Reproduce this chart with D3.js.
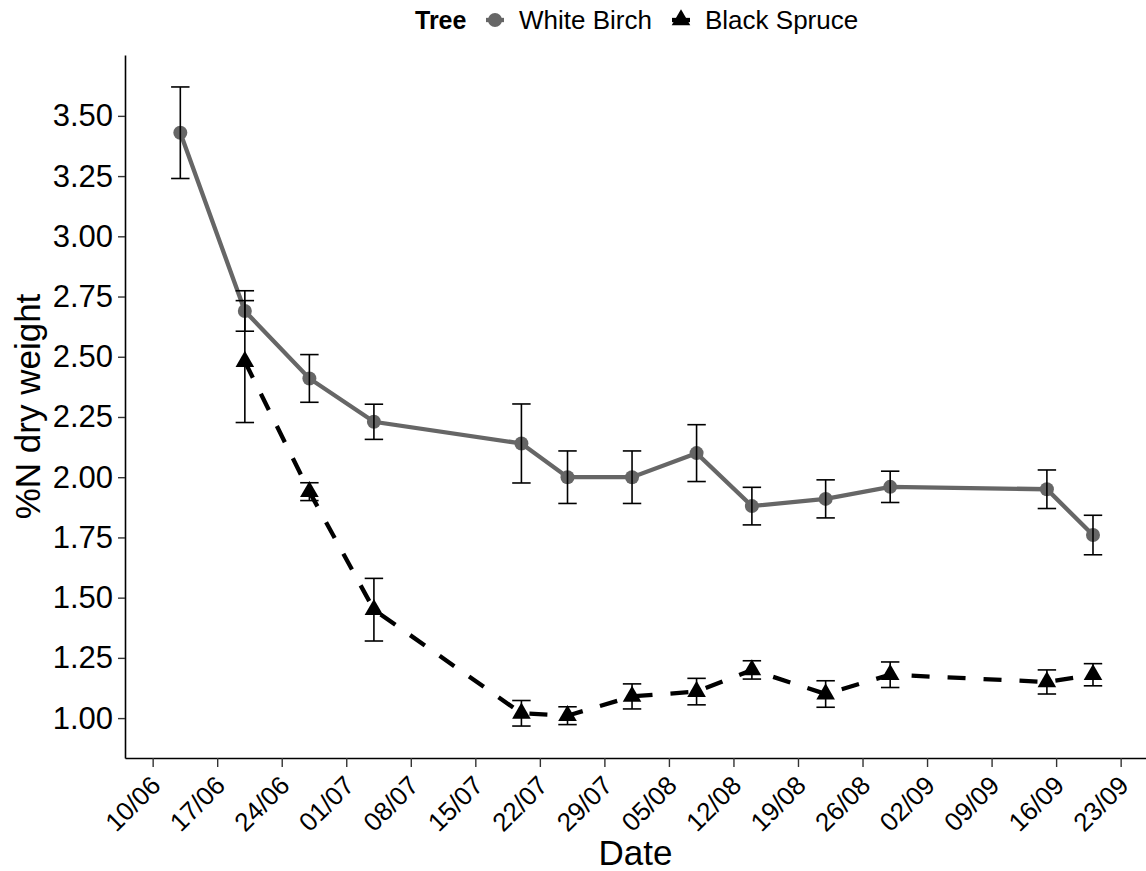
<!DOCTYPE html>
<html>
<head>
<meta charset="utf-8">
<script src="https://cdn.jsdelivr.net/npm/d3@7"></script>
<style>
  html, body { margin: 0; padding: 0; background: #ffffff; }
  svg { display: block; font-family: "Liberation Sans", Arial, Helvetica, sans-serif; }
</style>
</head>
<body>
<svg id="chart" width="1146" height="871"></svg>
<script>
// Foliar nitrogen (% of dry weight), mean ± error, by sampling date
const birchDates = ["13/06", "20/06", "27/06", "04/07", "20/07", "25/07", "01/08", "08/08", "14/08", "22/08", "29/08", "15/09", "20/09"];
const birchMean  = [3.43, 2.69, 2.41, 2.23, 2.14, 2.00, 2.00, 2.10, 1.88, 1.91, 1.96, 1.95, 1.76];
const birchErr   = [0.19, 0.084, 0.099, 0.073, 0.164, 0.109, 0.109, 0.118, 0.078, 0.079, 0.065, 0.080, 0.082];

const spruceDates = ["20/06", "27/06", "04/07", "20/07", "25/07", "01/08", "08/08", "14/08", "22/08", "29/08", "15/09", "20/09"];
const spruceMean  = [2.48, 1.94, 1.45, 1.02, 1.01, 1.09, 1.11, 1.20, 1.10, 1.18, 1.15, 1.18];
const spruceErr   = [0.253, 0.037, 0.13, 0.053, 0.037, 0.052, 0.055, 0.038, 0.055, 0.053, 0.05, 0.046];

const yTicks = [1.00, 1.25, 1.50, 1.75, 2.00, 2.25, 2.50, 2.75, 3.00, 3.25, 3.50];
const xTickLabels = ["10/06", "17/06", "24/06", "01/07", "08/07", "15/07", "22/07", "29/07", "05/08", "12/08", "19/08", "26/08", "02/09", "09/09", "16/09", "23/09"];

const legendTitle = "Tree";
const seriesNames = ["White Birch", "Black Spruce"];

const YEAR = 2021;
const parseDay = s => d3.utcParse("%d/%m/%Y")(s + "/" + YEAR);

const birch = birchDates.map((d, i) => ({ date: parseDay(d), mean: birchMean[i], err: birchErr[i] }));
const spruce = spruceDates.map((d, i) => ({ date: parseDay(d), mean: spruceMean[i], err: spruceErr[i] }));
const allRows = birch.concat(spruce);

const series = [
  { name: seriesNames[0], rows: birch, color: "#666666", dash: null, shape: "circle" },
  { name: seriesNames[1], rows: spruce, color: "#000000", dash: "18,18", shape: "triangle" }
];

const svg = d3.select("#chart");
const panel = { left: 125, right: 1146, top: 55, bottom: 758 };

// Date scale padded around the sampled range
const minDate = d3.min(allRows, d => d.date);
const maxDate = d3.max(allRows, d => d.date);
const x = d3.scaleUtc()
  .domain([d3.utcDay.offset(minDate, -6), d3.utcHour.offset(maxDate, 138)])
  .range([panel.left, panel.right]);

// Value scale: range of error bars expanded 5% on each side
const lo = d3.min(allRows, d => d.mean - d.err);
const hi = d3.max(allRows, d => d.mean + d.err);
const pad = (hi - lo) * 0.05;
const y = d3.scaleLinear().domain([lo - pad, hi + pad]).range([panel.bottom, panel.top]);

// Axes
const xTickValues = xTickLabels.map(parseDay);
const xAxis = d3.axisBottom(x)
  .tickValues(xTickValues)
  .tickFormat(d3.utcFormat("%d/%m"))
  .tickSizeInner(9).tickSizeOuter(0).tickPadding(4);

const gx = svg.append("g")
  .attr("transform", `translate(0,${panel.bottom})`)
  .call(xAxis);
gx.select(".domain").attr("stroke", "#000").attr("stroke-width", 1.6);
gx.selectAll(".tick line").attr("stroke", "#333").attr("stroke-width", 1.4);
gx.selectAll(".tick text")
  .attr("font-size", 26)
  .attr("fill", "#000")
  .attr("text-anchor", "end")
  .attr("dy", null)
  .attr("transform", "translate(9,29) rotate(-45)")
  .attr("y", 0).attr("x", 0);

const yAxis = d3.axisLeft(y)
  .tickValues(yTicks)
  .tickFormat(d3.format(".2f"))
  .tickSizeInner(7).tickSizeOuter(0).tickPadding(5);

const gy = svg.append("g")
  .attr("transform", `translate(${panel.left},0)`)
  .call(yAxis);
gy.select(".domain").attr("stroke", "#000").attr("stroke-width", 1.6);
gy.selectAll(".tick line").attr("stroke", "#333").attr("stroke-width", 1.4);
gy.selectAll(".tick text").attr("font-size", 31).attr("fill", "#000");

// Axis titles
svg.append("text")
  .attr("x", (panel.left + panel.right) / 2)
  .attr("y", 865)
  .attr("text-anchor", "middle")
  .attr("font-size", 35)
  .attr("fill", "#000")
  .text("Date");

svg.append("text")
  .attr("transform", `translate(40,${(panel.top + panel.bottom) / 2}) rotate(-90)`)
  .attr("text-anchor", "middle")
  .attr("font-size", 35)
  .attr("fill", "#000")
  .text("%N dry weight");

// Lines
const line = d3.line().x(d => x(d.date)).y(d => y(d.mean));
series.forEach(s => {
  svg.append("path")
    .datum(s.rows)
    .attr("fill", "none")
    .attr("stroke", s.color)
    .attr("stroke-width", 4.3)
    .attr("stroke-dasharray", s.dash)
    .attr("d", line);
});

// Points
const triangle = d3.symbol().type(d3.symbolTriangle).size(150);
series.forEach(s => {
  const g = svg.append("g");
  if (s.shape === "circle") {
    g.selectAll("circle").data(s.rows).join("circle")
      .attr("cx", d => x(d.date)).attr("cy", d => y(d.mean))
      .attr("r", 7).attr("fill", s.color);
  } else {
    g.selectAll("path").data(s.rows).join("path")
      .attr("transform", d => `translate(${x(d.date)},${y(d.mean)})`)
      .attr("d", triangle).attr("fill", s.color);
  }
});

// Error bars (cap width of two days)
series.forEach(s => {
  const g = svg.append("g").attr("stroke", "#000").attr("stroke-width", 1.6).attr("fill", "none");
  s.rows.forEach(d => {
    const cx = x(d.date);
    const x0 = x(d3.utcDay.offset(d.date, -1));
    const x1 = x(d3.utcDay.offset(d.date, 1));
    const yt = y(d.mean + d.err), yb = y(d.mean - d.err);
    g.append("line").attr("x1", cx).attr("x2", cx).attr("y1", yt).attr("y2", yb);
    g.append("line").attr("x1", x0).attr("x2", x1).attr("y1", yt).attr("y2", yt);
    g.append("line").attr("x1", x0).attr("x2", x1).attr("y1", yb).attr("y2", yb);
  });
});

// Legend
const lg = svg.append("g").attr("transform", "translate(0,20)");
lg.append("text")
  .attr("x", 415).attr("y", 9)
  .attr("font-size", 25).attr("font-weight", "bold").attr("fill", "#000")
  .text(legendTitle);

const keyX = [495, 681];
const labelX = [519, 705];
series.forEach((s, i) => {
  const k = lg.append("g").attr("transform", `translate(${keyX[i]},0)`);
  k.append("line").attr("x1", -9).attr("x2", 9).attr("y1", 0).attr("y2", 0)
    .attr("stroke", s.color).attr("stroke-width", 4.3);
  if (s.shape === "circle") {
    k.append("circle").attr("r", 7).attr("fill", s.color);
  } else {
    k.append("path").attr("d", triangle).attr("fill", s.color);
  }
  lg.append("text")
    .attr("x", labelX[i]).attr("y", 9)
    .attr("font-size", 26).attr("fill", "#000")
    .text(s.name);
});
</script>
</body>
</html>
